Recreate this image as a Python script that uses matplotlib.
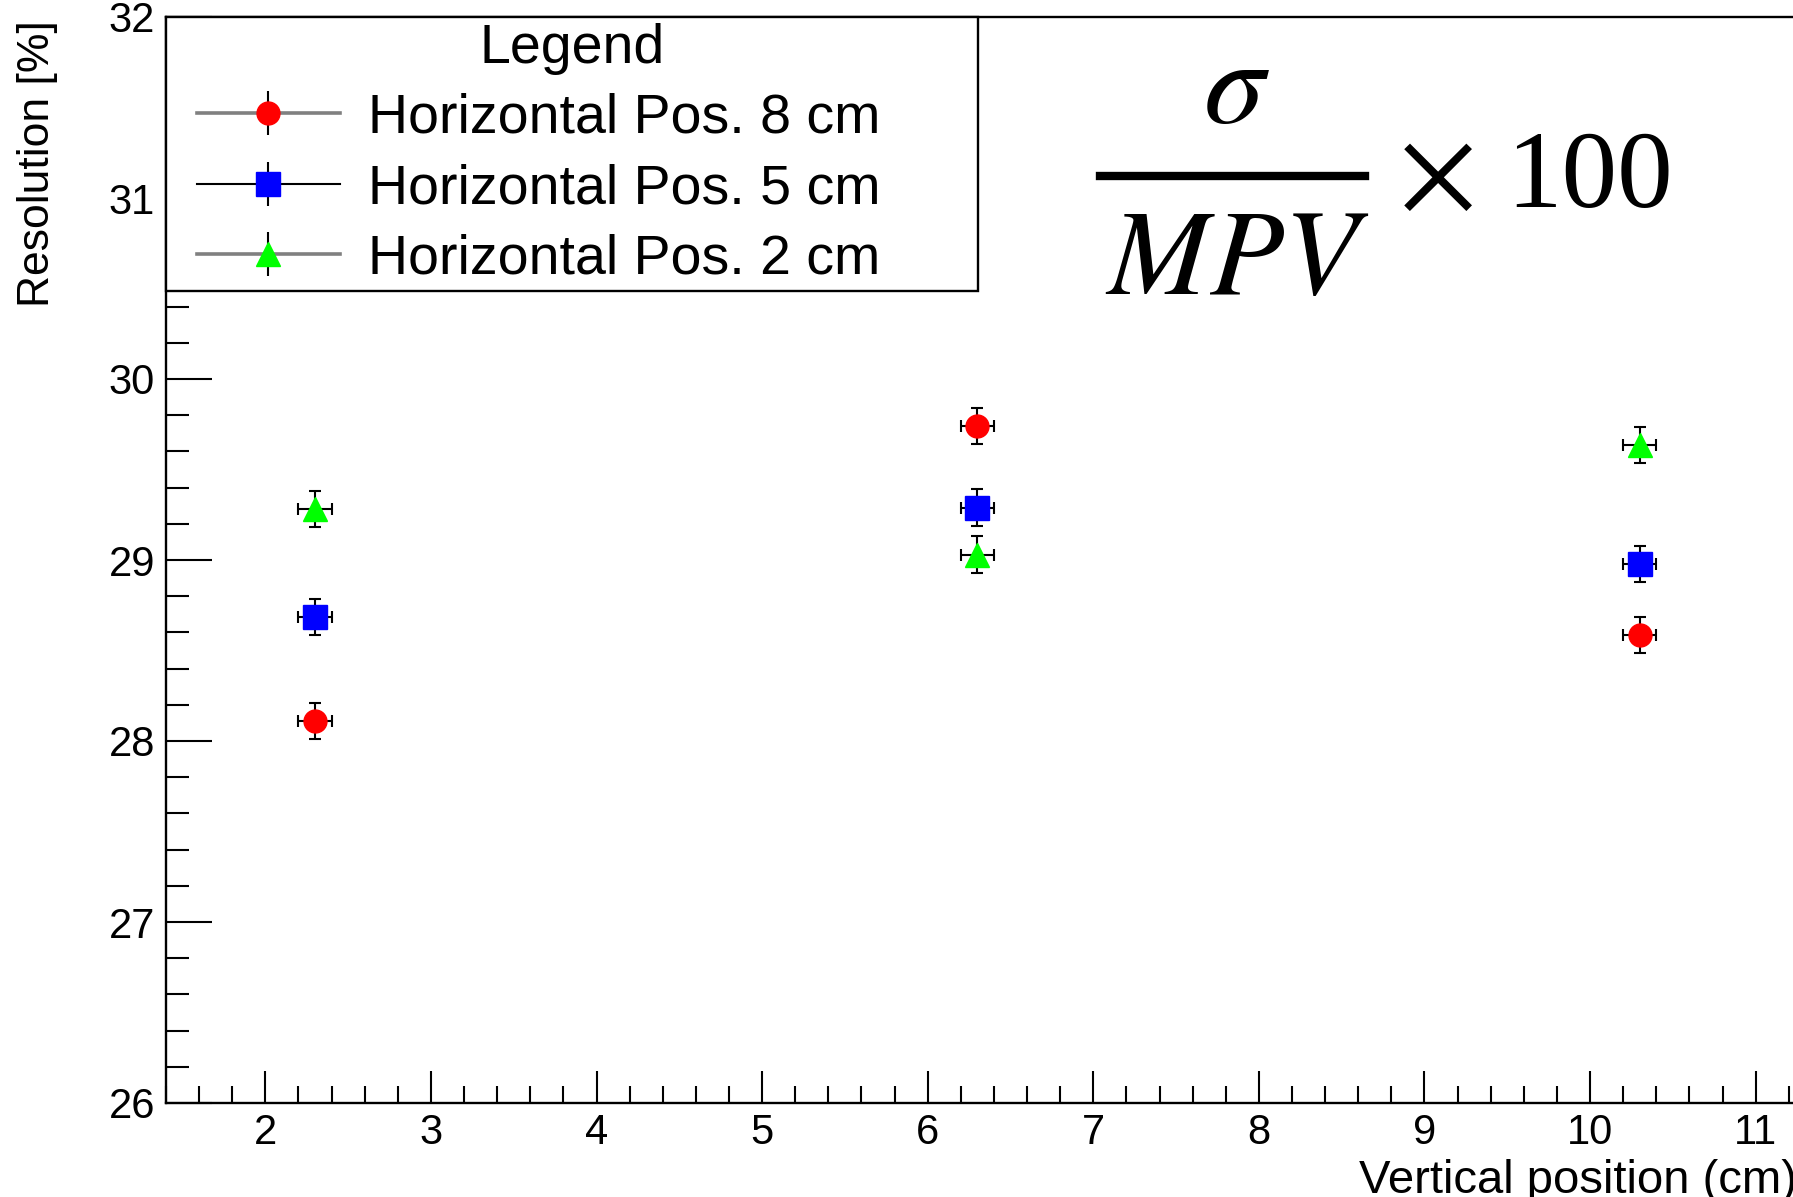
import matplotlib
matplotlib.use("Agg")
import matplotlib.pyplot as plt
from matplotlib.lines import Line2D
from matplotlib.legend_handler import HandlerTuple
from matplotlib.ticker import MultipleLocator

plt.rcParams['font.family'] = ['Liberation Sans', 'DejaVu Sans']

# data
vertical_pos = [2.3, 6.3, 10.3]
pos_err = [0.1, 0.1, 0.1]
res_8cm = [28.11, 29.74, 28.585]
res_5cm = [28.685, 29.29, 28.98]
res_2cm = [29.28, 29.03, 29.635]
err_8cm = [0.1, 0.1, 0.1]
err_5cm = [0.1, 0.1, 0.1]
err_2cm = [0.1, 0.1, 0.1]
labels = ['Horizontal Pos. 8 cm', 'Horizontal Pos. 5 cm', 'Horizontal Pos. 2 cm']

W, H = 1793, 1197
fig = plt.figure(figsize=(W / 100, H / 100), dpi=100)
# axes runs past the right edge, like the cropped original
ax = fig.add_axes([166 / W, 94 / H, 1689 / W, 1086 / H])

series = [
    (res_8cm, err_8cm, 'o', '#ff0000', 16.5, '#808080', 2.6),
    (res_5cm, err_5cm, 's', '#0000ff', 17, 'black', 1.5),
    (res_2cm, err_2cm, '^', '#00ff00', 17, '#808080', 2.6),
]

handles = []
for y, yerr, mk, col, ms, lcol, lw in series:
    ax.errorbar(vertical_pos, y, xerr=pos_err, yerr=yerr, fmt=mk, ms=ms,
                mfc=col, mec=col, ecolor='black', elinewidth=1.5,
                capsize=4.3, capthick=1.5, zorder=3)
    vbar = Line2D([], [], ls='none', marker='|', ms=32, mew=1.5, color='black')
    line = Line2D([], [], color=lcol, lw=lw, marker=mk, ms=ms, mfc=col, mec=col)
    handles.append((vbar, line))

ax.set_xlim(1.4, 11.6)
ax.set_ylim(26, 32)
ax.xaxis.set_major_locator(MultipleLocator(1))
ax.xaxis.set_minor_locator(MultipleLocator(0.2))
ax.yaxis.set_major_locator(MultipleLocator(1))
ax.yaxis.set_minor_locator(MultipleLocator(0.2))

ax.tick_params(which='both', direction='in', top=False, right=False,
               width=1.5, labelsize=30)
ax.tick_params(axis='y', which='major', length=33, pad=8)
ax.tick_params(axis='y', which='minor', length=16.5)
ax.tick_params(axis='x', which='major', length=23, pad=7)
ax.tick_params(axis='x', which='minor', length=12)
for s in ax.spines.values():
    s.set_linewidth(1.7)
    s.set_color('black')

leg = ax.legend(handles, labels, title='Legend', loc='upper left',
                bbox_to_anchor=(0, 1, 812 / 1689, 0), mode='expand',
                borderaxespad=0, borderpad=0.1, fontsize=40, title_fontsize=40,
                handlelength=3.03, handletextpad=0.5, labelspacing=0.33,
                numpoints=1, fancybox=False, framealpha=1, edgecolor='black',
                handler_map={tuple: HandlerTuple(ndivide=1, xpad=0.45)})
leg.get_frame().set_linewidth(1.7)

fig.text(38 / W, 1 - 20 / H, 'Resolution [%]', rotation=90, ha='center',
         va='top', fontsize=32)
fig.text(1797 / W, 1 - 1193 / H, 'Vertical position (cm)', ha='right',
         va='baseline', fontsize=34)

# formula
fig.text(1236 / W, 1 - 123 / H, r'$\sigma$', math_fontfamily='stix',
         fontsize=88, ha='center', va='baseline')
fig.add_artist(Line2D([1100 / W, 1365 / W], [1 - 176 / H, 1 - 176 / H],
                      color='black', lw=6))
fig.text(1237 / W, 1 - 294 / H, r'$MPV$', math_fontfamily='stix',
         fontsize=88, ha='center', va='baseline')
fig.text(1435 / W, 1 - 176 / H, r'$\times$', math_fontfamily='stix',
         fontsize=88, ha='center', va='center')
fig.text(1506 / W, 1 - 207 / H, '100', family='Liberation Serif',
         fontsize=80, ha='left', va='baseline')

fig.savefig('out.png', dpi=100)
